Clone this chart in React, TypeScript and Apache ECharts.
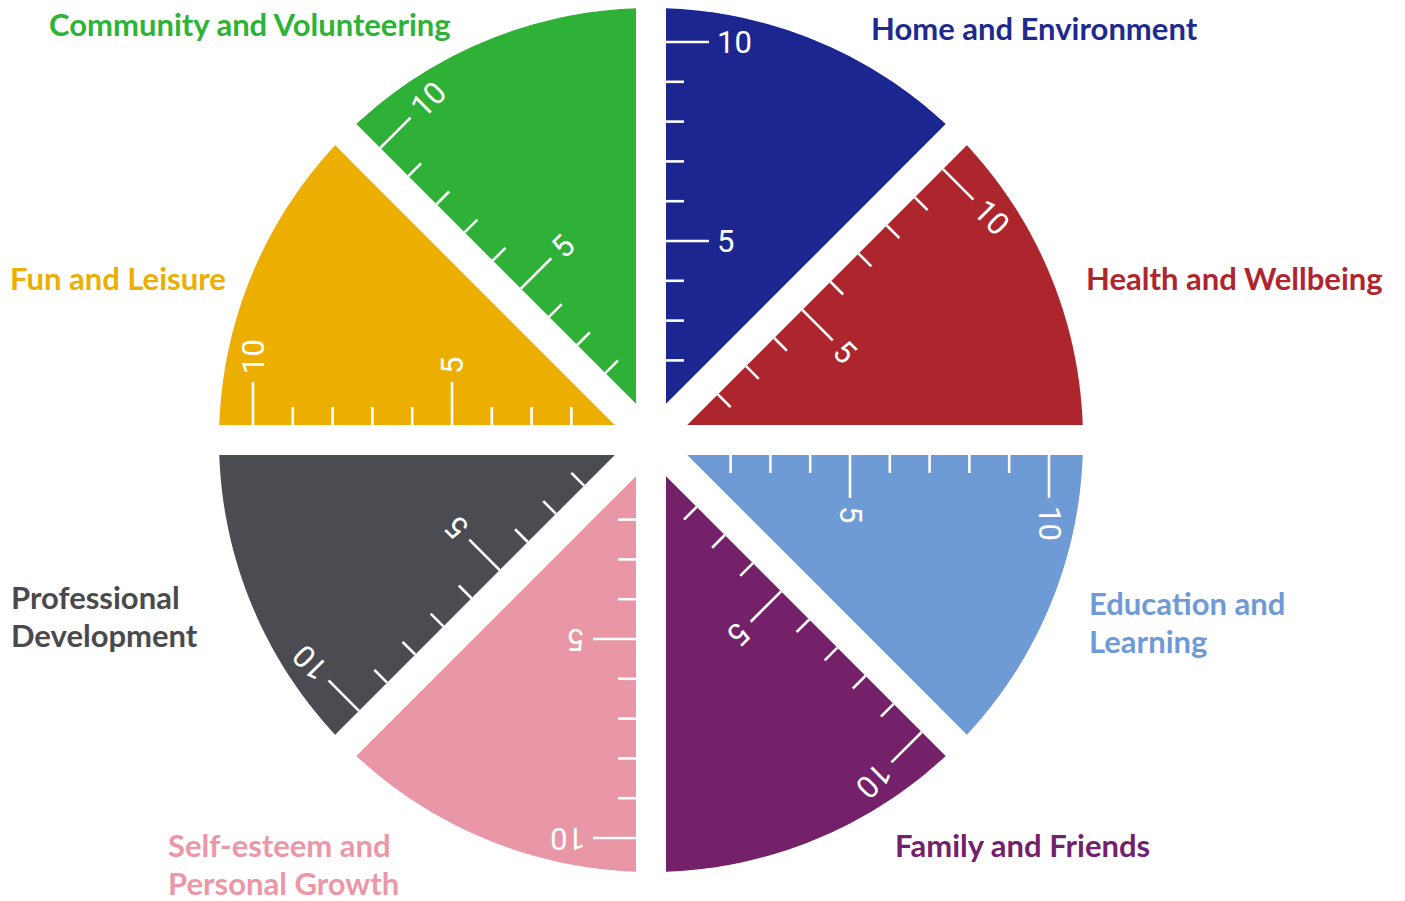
import React, { useEffect, useRef } from 'react';
import * as echarts from 'echarts';

// ---- data ----
const categories = [
  'Home and Environment',
  'Health and Wellbeing',
  'Education and\nLearning',
  'Family and Friends',
  'Self-esteem and\nPersonal Growth',
  'Professional\nDevelopment',
  'Fun and Leisure',
  'Community and Volunteering',
];
// start angle (degrees, counter-clockwise from 3 o'clock) of each 45° segment
const startAngles = [45, 0, -45, -90, -135, 180, 135, 90];
const sectorColors = ['#1B2690', '#AE262D', '#6E9AD5', '#75216A', '#E996A6', '#4B4C51', '#ECAE00', '#2EB136'];
const labelColors = ['#1D2A8E', '#B0252D', '#6E9AD8', '#74216B', '#EC97A8', '#4A4A4E', '#ECAE00', '#2DB336'];
const tickValues = [2, 3, 4, 5, 6, 7, 8, 9, 10];
const labeledTicks = [5, 10];

// ---- layout ----
const W = 1405;
const H = 901;
const CX = 651;
const CY = 440;
const PX_PER_UNIT = 39.8;
const OUTER_R = 432 / PX_PER_UNIT;
const GAP_PX = 15;
const SHORT_TICK = 18;
const LONG_TICK = 43;
const LABEL_GAP = 8;
const labelLayout: [number, number][] = [
  [871, 28],
  [1086, 278],
  [1089, 603],
  [895, 845],
  [168, 845],
  [11, 597],
  [10, 278],
  [49, 24],
];
const LINE_SPACING = 38;
const LINE_BOX = 32;

export default function App() {
  const ref = useRef<HTMLDivElement>(null);
  useEffect(() => {
    if (!ref.current) return;
    const chart = echarts.init(ref.current, undefined, { renderer: 'svg' });
    const rad = Math.PI / 180;

    const renderItem = (params: any, api: any) => {
      const i = params.dataIndex;
      const a1 = api.value(2) * rad;
      const a2 = a1 + 45 * rad;
      const c0 = api.coord([0, 0]);
      const unit = api.coord([1, 0])[0] - c0[0];
      const g = GAP_PX / unit;
      const R = OUTER_R;
      const u1 = [Math.cos(a1), Math.sin(a1)];
      const u2 = [Math.cos(a2), Math.sin(a2)];
      const n1 = [-Math.sin(a1), Math.cos(a1)];
      const n2 = [Math.sin(a2), -Math.cos(a2)];
      const m = (a1 + a2) / 2;
      const dv = g / Math.sin(22.5 * rad);
      const pts: number[][] = [];
      pts.push(api.coord([dv * Math.cos(m), dv * Math.sin(m)]));
      const t = Math.sqrt(R * R - g * g);
      pts.push(api.coord([g * n1[0] + t * u1[0], g * n1[1] + t * u1[1]]));
      const d = Math.asin(g / R);
      const steps = 60;
      for (let k = 0; k <= steps; k++) {
        const a = a1 + d + ((a2 - d - (a1 + d)) * k) / steps;
        pts.push(api.coord([R * Math.cos(a), R * Math.sin(a)]));
      }
      pts.push(api.coord([g * n2[0] + t * u2[0], g * n2[1] + t * u2[1]]));

      const children: any[] = [
        {
          type: 'polygon',
          shape: { points: pts },
          style: { fill: sectorColors[i] },
        },
      ];
      const rot = a2 - 90 * rad;
      tickValues.forEach((v) => {
        const isLong = labeledTicks.includes(v);
        const L = (isLong ? LONG_TICK : SHORT_TICK) / unit;
        const P = [g * n2[0] + v * u2[0], g * n2[1] + v * u2[1]];
        const Q = [P[0] + L * n2[0], P[1] + L * n2[1]];
        const p = api.coord(P);
        const q = api.coord(Q);
        children.push({
          type: 'line',
          shape: { x1: p[0], y1: p[1], x2: q[0], y2: q[1] },
          style: { stroke: '#ffffff', lineWidth: 2.6 },
        });
        if (isLong) {
          const off = (LONG_TICK + LABEL_GAP) / unit;
          const T = api.coord([P[0] + off * n2[0], P[1] + off * n2[1]]);
          children.push({
            type: 'text',
            x: T[0],
            y: T[1],
            rotation: rot,
            style: {
              text: String(v),
              fill: '#ffffff',
              fontSize: 31,
              fontFamily: 'Roboto',
              fontWeight: 'normal',
              align: 'left',
              verticalAlign: 'middle',
            },
          });
        }
      });
      return { type: 'group', children };
    };

    const graphics: any[] = [];
    categories.forEach((c, i) => {
      c.split('\n').forEach((line, j) => {
        graphics.push({
          type: 'text',
          left: labelLayout[i][0],
          top: labelLayout[i][1] + j * LINE_SPACING - LINE_BOX / 2,
          style: {
            text: line,
            fill: labelColors[i],
            fontSize: 31,
            fontFamily: 'Lato',
            fontWeight: 'bold',
            lineHeight: LINE_BOX,
          },
        });
      });
    });

    chart.setOption({
      animation: false,
      grid: { left: 0, right: 0, top: 0, bottom: 0, containLabel: false },
      xAxis: {
        type: 'value',
        show: false,
        min: -CX / PX_PER_UNIT,
        max: (W - CX) / PX_PER_UNIT,
      },
      yAxis: {
        type: 'value',
        show: false,
        min: -(H - CY) / PX_PER_UNIT,
        max: CY / PX_PER_UNIT,
      },
      graphic: graphics,
      series: [
        {
          type: 'custom',
          coordinateSystem: 'cartesian2d',
          renderItem,
          encode: { x: 0, y: 1 },
          data: startAngles.map((a) => [0, 0, a]),
          silent: true,
        },
      ],
    });
    return () => chart.dispose();
  }, []);
  return (
    <div
      ref={ref}
      style={{ position: 'absolute', left: 0, top: 0, width: W, height: H }}
    />
  );
}
